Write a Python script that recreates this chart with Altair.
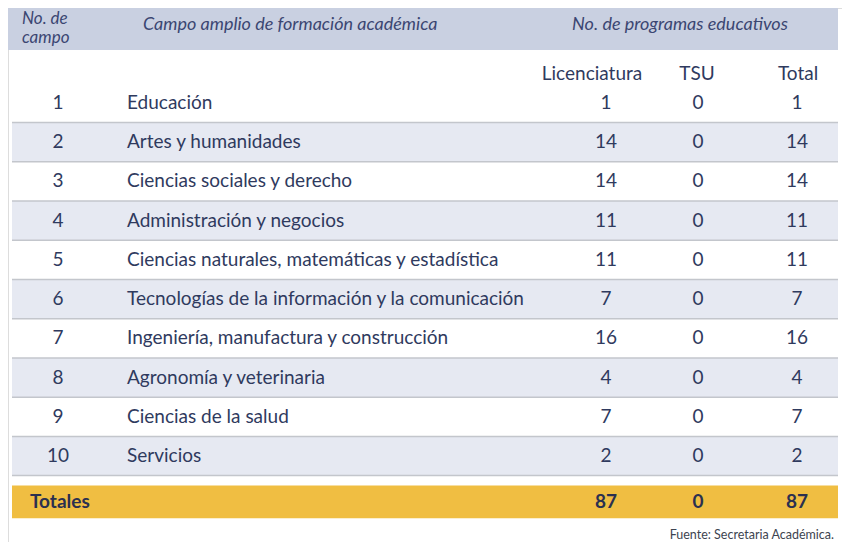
import altair as alt
import pandas as pd

# ---------------- data ----------------
campo = [1, 2, 3, 4, 5, 6, 7, 8, 9, 10]
nombres = [
    "Educación",
    "Artes y humanidades",
    "Ciencias sociales y derecho",
    "Administración y negocios",
    "Ciencias naturales, matemáticas y estadística",
    "Tecnologías de la información y la comunicación",
    "Ingeniería, manufactura y construcción",
    "Agronomía y veterinaria",
    "Ciencias de la salud",
    "Servicios",
]
licenciatura = [1, 14, 14, 11, 11, 7, 16, 4, 7, 2]
tsu = [0, 0, 0, 0, 0, 0, 0, 0, 0, 0]
total = [1, 14, 14, 11, 11, 7, 16, 4, 7, 2]
totales = [87, 0, 87]
columnas = ["Licenciatura", "TSU", "Total"]

# ---------------- layout ----------------
FONT = "Lato"
TXT = "#2f3a5e"
HDR = "#3b4672"
W, H = 834, 534
TOTAL_ROW = 11.17
SUB_ROW = 0.26
COL_X = {"campo": 50, "nombre": 119, "Licenciatura": 598, "TSU": 690, "Total": 789}

df = pd.DataFrame({
    "fila": campo,
    "campo": [str(c) for c in campo],
    "nombre": nombres,
    "Licenciatura": licenciatura,
    "TSU": tsu,
    "Total": total,
})
df_tot = pd.DataFrame({"fila": [TOTAL_ROW], "etiqueta": ["Totales"],
                       "Licenciatura": [totales[0]], "TSU": [totales[1]], "Total": [totales[2]]})

yscale = alt.Scale(domain=[1, 10], range=[95, 448], zero=False, nice=False)
Y = lambda f: alt.Y(f, type="quantitative", scale=yscale, axis=None)

base = alt.Chart(df)

header_band = alt.Chart(df.head(1)).mark_rect(color="#c9d0e1").encode(
    x=alt.value(0), x2=alt.value(830), y=alt.value(0), y2=alt.value(42))

bands = base.transform_filter("datum.fila % 2 == 0").transform_calculate(
    y0="datum.fila - 0.5", y1="datum.fila + 0.5"
).mark_rect(color="#e6e9f2").encode(
    x=alt.value(4), x2=alt.value(830), y=Y("y0"), y2="y1:Q")

lines = base.transform_calculate(yl="datum.fila + 0.5").mark_rule(
    color="#c3c6cc", strokeWidth=1.5).encode(
    x=alt.value(4), x2=alt.value(830), y=Y("yl"))

tot_band = alt.Chart(df_tot).transform_calculate(
    y0="datum.fila - 0.42", y1="datum.fila + 0.42"
).mark_rect(color="#f0be42").encode(
    x=alt.value(4), x2=alt.value(830), y=Y("y0"), y2="y1:Q")

def txt(data, field, x, align="center", bold=False, size=19, color=TXT):
    return alt.Chart(data).mark_text(
        font=FONT, fontSize=size, color=color, align=align, baseline="middle",
        fontWeight="bold" if bold else "normal"
    ).encode(x=alt.value(x), y=Y("fila"), text=alt.Text(field))

layers = [header_band, bands, lines, tot_band]
layers.append(txt(df, "campo:N", COL_X["campo"]))
layers.append(txt(df, "nombre:N", COL_X["nombre"], align="left"))
for c in columnas:
    layers.append(txt(df, f"{c}:Q", COL_X[c]))
    layers.append(txt(df_tot, f"{c}:Q", COL_X[c], bold=True, color="#2b3050"))
layers.append(txt(df_tot, "etiqueta:N", 22, align="left", bold=True, color="#2b3050"))

# headers
hdr_df = pd.DataFrame({
    "t": ["No. de", "campo", "Campo amplio de formación académica", "No. de programas educativos"],
    "x": [14, 14, 135, 672],
    "y": [11, 30, 17, 17],
    "a": ["left", "left", "left", "center"],
    "s": [17, 17, 18, 18],
})
for _, r in hdr_df.iterrows():
    layers.append(alt.Chart(pd.DataFrame({"t": [r.t]})).mark_text(
        font=FONT, fontSize=int(r.s), fontStyle="italic", color=HDR, align=r.a, baseline="middle"
    ).encode(x=alt.value(int(r.x)), y=alt.value(int(r.y)), text="t:N"))

sub_df = pd.DataFrame({"fila": [SUB_ROW] * 3, "t": columnas})
for c, x in zip(columnas, [584, 689, 790]):
    layers.append(alt.Chart(sub_df[sub_df.t == c]).mark_text(
        font=FONT, fontSize=19, color=TXT, align="center", baseline="middle"
    ).encode(x=alt.value(x), y=Y("fila"), text="t:N"))

layers.append(alt.Chart(pd.DataFrame({"t": ["Fuente: Secretaria Académica."]})).mark_text(
    font=FONT, fontSize=12.5, color="#3d4450", align="right", baseline="middle"
).encode(x=alt.value(826), y=alt.value(527), text="t:N"))

chart = alt.layer(*layers).properties(
    width=W, height=H, padding=0, autosize=alt.AutoSizeParams(type="none")
).configure_view(stroke=None).configure(background="white")

chart.save("out.html", embed_options={"renderer": "svg", "actions": False})
